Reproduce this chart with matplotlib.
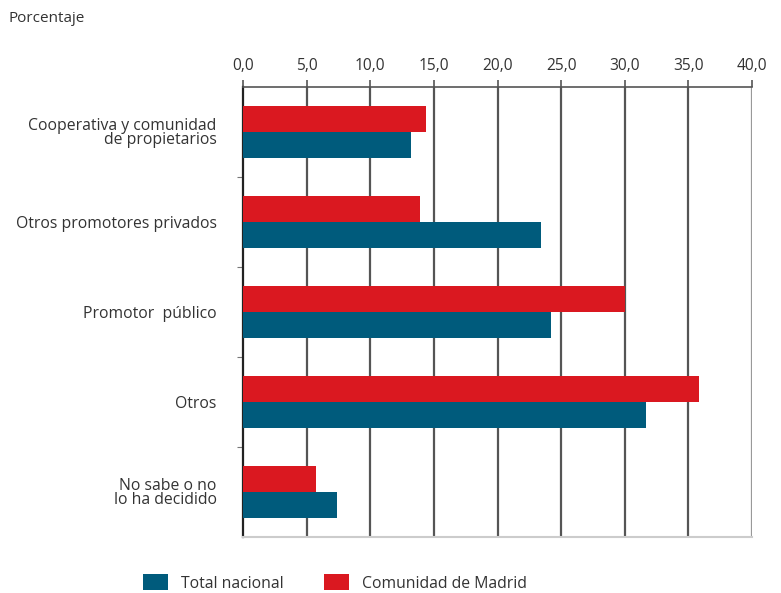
"""Horizontal grouped bars: Total nacional vs Comunidad de Madrid."""
import matplotlib
matplotlib.use("Agg")
import matplotlib.pyplot as plt
import numpy as np

categories = [
    "Cooperativa y comunidad\nde propietarios",
    "Otros promotores privados",
    "Promotor  público",
    "Otros",
    "No sabe o no\nlo ha decidido",
]
total_nacional = [13.2, 23.4, 24.2, 31.7, 7.4]
comunidad_madrid = [14.4, 13.9, 30.0, 35.8, 5.7]
x_ticks = [0, 5, 10, 15, 20, 25, 30, 35, 40]
x_ticklabels = ["0,0", "5,0", "10,0", "15,0", "20,0", "25,0", "30,0", "35,0", "40,0"]

BLUE = "#005B7C"
RED = "#DA1820"
TEXT = "#333333"
GRID = "#555555"

plt.rcParams["font.family"] = ["Open Sans", "DejaVu Sans"]

fig = plt.figure(figsize=(7.81, 5.93), dpi=100)
ax = fig.add_axes([243 / 781, 1 - 537 / 593, 509 / 781, 450 / 593])

y = np.arange(len(categories))
h = 0.289
ax.barh(y + h / 2, total_nacional, height=h, color=BLUE, label="Total nacional", zorder=3)
ax.barh(y - h / 2, comunidad_madrid, height=h, color=RED, label="Comunidad de Madrid", zorder=3)

ax.set_xlim(0, 40)
ax.set_ylim(len(categories) - 0.5, -0.5)

ax.xaxis.tick_top()
ax.set_xticks(x_ticks)
ax.set_xticklabels(x_ticklabels, fontsize=11.2, color=TEXT)
ax.tick_params(axis="x", length=5, width=1.2, color=GRID, pad=4.5)
for xv in x_ticks[1:]:
    ax.axvline(xv, color="#999999" if xv == 40 else GRID, lw=1.6, zorder=1)

ax.set_yticks(y)
ax.set_yticklabels(categories, fontsize=11.3, color=TEXT, linespacing=0.85)
ax.tick_params(axis="y", length=0, pad=19)
ax.set_yticks(np.arange(len(categories) - 1) + 0.5, minor=True)
ax.tick_params(axis="y", which="minor", length=4, width=0.8, color="#777777")

ax.spines["right"].set_visible(False)
ax.spines["left"].set_color("#222222")
ax.spines["left"].set_linewidth(1.6)
ax.spines["top"].set_color(GRID)
ax.spines["top"].set_linewidth(1.2)
ax.spines["bottom"].set_color("#cccccc")
ax.spines["bottom"].set_linewidth(1.5)

fig.text(8 / 781, 1 - 18 / 593, "Porcentaje", fontsize=11, color=TEXT, va="center")

handles, labels = ax.get_legend_handles_labels()
fig.legend(handles, labels, loc="center", bbox_to_anchor=(335 / 781, 1 - 583 / 593),
           ncol=2, frameon=False, fontsize=11.3, handlelength=1.6, handleheight=1.2,
           handletextpad=0.8, columnspacing=2.6, labelcolor=TEXT)

fig.savefig("out.png", dpi=100)
